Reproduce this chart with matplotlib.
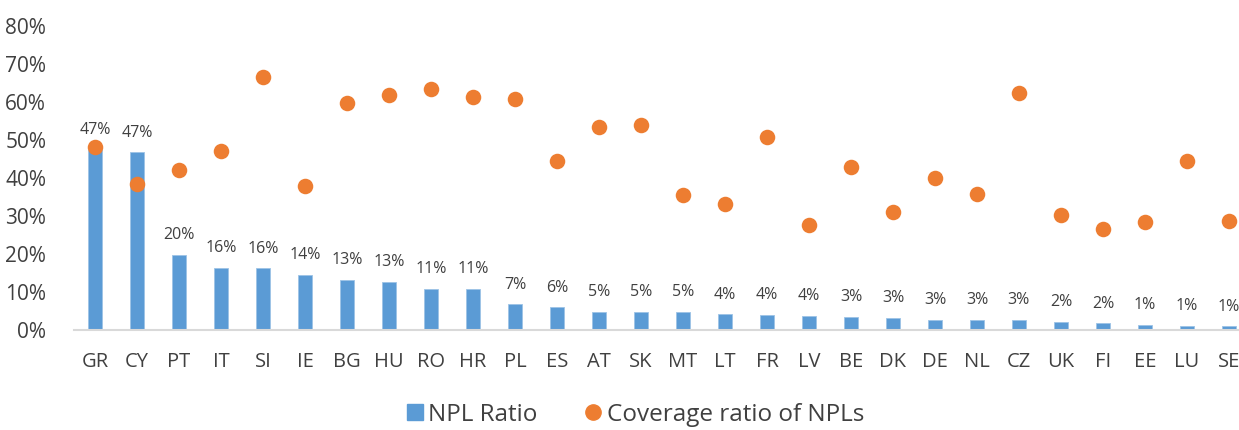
import matplotlib
matplotlib.use("Agg")
import matplotlib.pyplot as plt
from matplotlib.lines import Line2D
from matplotlib.ticker import FuncFormatter

plt.rcParams['font.family'] = ['Open Sans', 'DejaVu Sans']

countries = ["GR", "CY", "PT", "IT", "SI", "IE", "BG", "HU", "RO", "HR", "PL", "ES", "AT", "SK",
             "MT", "LT", "FR", "LV", "BE", "DK", "DE", "NL", "CZ", "UK", "FI", "EE", "LU", "SE"]
npl_ratio = [47.4, 46.7, 19.6, 16.2, 16.1, 14.3, 13.0, 12.6, 10.7, 10.6, 6.6, 5.8, 4.7, 4.6,
             4.6, 4.0, 3.8, 3.6, 3.3, 3.0, 2.6, 2.6, 2.6, 2.1, 1.6, 1.3, 1.0, 0.8]
coverage = [48.1, 38.3, 42.0, 47.1, 66.6, 37.8, 59.8, 61.9, 63.5, 61.4, 60.7, 44.3, 53.5, 54.0,
            35.5, 33.1, 50.7, 27.6, 42.9, 31.0, 40.0, 35.7, 62.3, 30.2, 26.5, 28.4, 44.4, 28.6]

blue = "#5B9BD5"
orange = "#ED7D31"
text_col = "#404040"

fig = plt.figure(figsize=(12.39, 4.30), dpi=100)
ax = fig.add_axes([74/1239, 1 - 329.5/430, 1 - 74/1239, (329.5 - 26)/430])

x = list(range(len(countries)))
npl_frac = [v / 100 for v in npl_ratio]
cov_frac = [v / 100 for v in coverage]

ax.bar(x, npl_frac, width=0.32, color=blue, edgecolor="#9DC3E6", linewidth=0.6, zorder=2)
ax.scatter(x, cov_frac, s=125, color=orange, zorder=3, linewidths=0)

for xi, v in zip(x, npl_ratio):
    ax.annotate(f"{v:.0f}%", (xi, v / 100), xytext=(0, 8.5), textcoords="offset points",
                ha="center", va="bottom", fontsize=11.5, color=text_col, zorder=4)

ax.set_ylim(0, 0.8)
ax.set_xlim(-0.5, 27.24)
ax.set_yticks([i / 10 for i in range(9)])
ax.yaxis.set_major_formatter(FuncFormatter(lambda v, p: f"{v*100:.0f}%"))
ax.set_xticks(x)
ax.set_xticklabels(countries)

for s in ["top", "right", "left"]:
    ax.spines[s].set_visible(False)
ax.spines["bottom"].set_color("#D9D9D9")
ax.spines["bottom"].set_linewidth(1.5)
ax.tick_params(axis="y", length=0, pad=20, labelsize=15, labelcolor=text_col)
ax.tick_params(axis="x", length=0, pad=16, labelsize=14.5, labelcolor=text_col)

handles = [Line2D([0], [0], marker="s", linestyle="none", markersize=11, markerfacecolor=blue,
                  markeredgecolor=blue),
           Line2D([0], [0], marker="o", linestyle="none", markersize=11, markerfacecolor=orange,
                  markeredgecolor=orange)]
fig.legend(handles, ["NPL Ratio", "Coverage ratio of NPLs"], loc="center",
           bbox_to_anchor=(0.513, 0.035), ncol=2, frameon=False, fontsize=17.5,
           handlelength=0.6, handletextpad=0.25, columnspacing=2.0, labelcolor=text_col)

fig.savefig("out.png", dpi=100)
